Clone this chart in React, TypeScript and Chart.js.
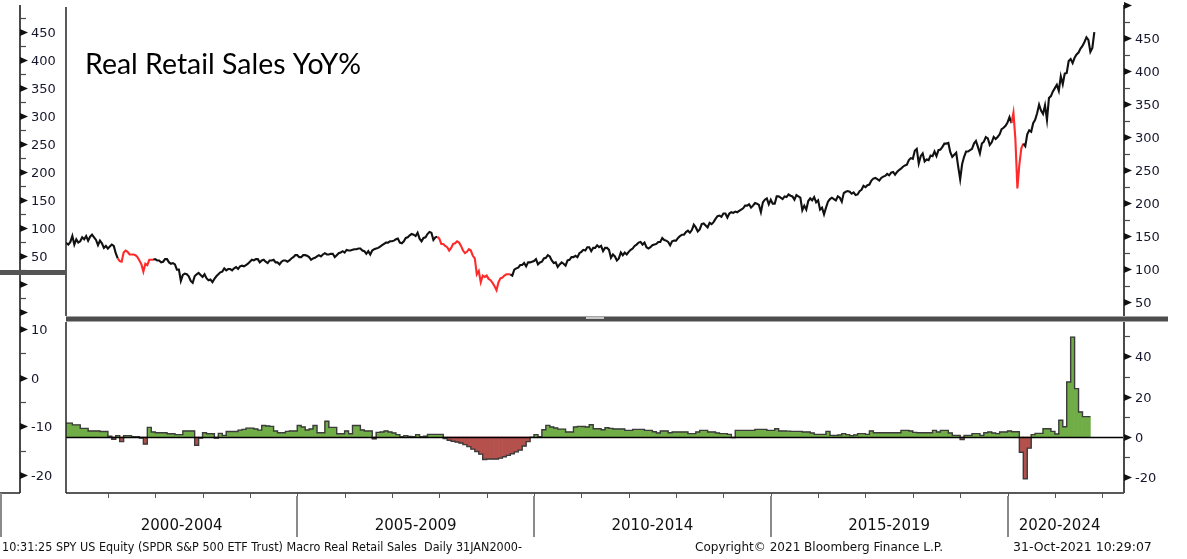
import React, { useEffect, useRef } from "react";
import { Chart, registerables } from "chart.js";

Chart.register(...registerables);

// ---------------- DATA ----------------
// SPY US Equity price, two readings per month (mid-month, month-end); series starts at month-end Jan 2000
const spy2000 = [140, 139, 137, 141, 150, 137, 145, 140, 142, 148, 145, 150, 143, 149, 152, 148, 144, 136, 143, 139, 132, 135, 131];
const spy2001 = [134, 137, 135, 124, 116, 112, 111, 125, 128, 126, 122, 122, 122, 121, 118, 113, 107, 96, 108, 106, 114, 114, 114, 115];
const spy2002 = [113, 113, 110, 111, 115, 115, 110, 108, 109, 107, 99, 99, 82, 91, 93, 92, 89, 82, 79, 89, 92, 94, 91, 88];
const spy2003 = [92, 86, 83, 84, 80, 85, 89, 92, 95, 96, 101, 98, 100, 100, 98, 101, 103, 100, 104, 105, 104, 106, 108, 111];
const spy2004 = [114, 113, 115, 115, 110, 113, 114, 111, 109, 113, 113, 114, 110, 110, 107, 111, 113, 113, 111, 113, 116, 118, 121, 121];
const spy2005 = [118, 118, 121, 121, 120, 118, 114, 116, 117, 119, 121, 119, 122, 124, 122, 122, 123, 123, 118, 121, 124, 125, 127, 125];
const spy2006 = [129, 128, 128, 129, 130, 130, 131, 131, 128, 127, 123, 127, 122, 128, 130, 131, 132, 134, 136, 138, 140, 140, 142, 142];
const spy2007 = [143, 145, 146, 140, 139, 142, 147, 148, 151, 153, 152, 150, 155, 146, 142, 147, 148, 153, 156, 155, 144, 148, 149, 146];
const spy2008 = [138, 138, 135, 133, 128, 132, 138, 139, 142, 140, 135, 128, 124, 126, 130, 128, 120, 116, 92, 97, 80, 90, 88, 90];
const spy2009 = [85, 83, 79, 74, 68, 80, 86, 87, 90, 92, 92, 92, 90, 99, 101, 102, 106, 106, 109, 104, 110, 110, 111, 112];
const spy2010 = [115, 107, 110, 111, 116, 117, 121, 119, 113, 109, 110, 103, 107, 110, 108, 105, 113, 114, 118, 118, 120, 118, 124, 126];
const spy2011 = [129, 128, 133, 133, 127, 132, 132, 136, 133, 135, 127, 132, 132, 129, 117, 122, 119, 113, 116, 125, 121, 125, 122, 126];
const spy2012 = [129, 131, 135, 137, 140, 141, 137, 140, 133, 131, 133, 136, 137, 138, 141, 141, 147, 144, 143, 141, 136, 142, 143, 143];
const spy2013 = [147, 150, 152, 152, 156, 158, 155, 159, 167, 163, 157, 160, 168, 169, 166, 163, 170, 168, 171, 176, 180, 181, 179, 184];
const spy2014 = [184, 178, 184, 186, 185, 187, 186, 188, 190, 192, 196, 196, 198, 193, 196, 200, 199, 197, 186, 201, 205, 207, 198, 205];
const spy2015 = [199, 199, 210, 210, 208, 206, 210, 209, 213, 211, 210, 205, 212, 210, 208, 189, 196, 190, 203, 207, 204, 209, 201, 204];
const spy2016 = [190, 193, 183, 193, 202, 206, 208, 206, 204, 210, 208, 202, 215, 217, 218, 217, 214, 216, 212, 213, 218, 220, 226, 224];
const spy2017 = [227, 228, 234, 237, 238, 236, 234, 238, 240, 241, 244, 242, 246, 247, 243, 247, 250, 252, 255, 257, 258, 265, 268, 267];
const spy2018 = [279, 282, 260, 271, 275, 263, 266, 265, 272, 271, 278, 271, 280, 281, 285, 290, 290, 291, 277, 270, 273, 276, 255, 236];
const spy2019 = [259, 270, 278, 278, 280, 282, 290, 294, 285, 275, 290, 293, 300, 298, 288, 292, 300, 297, 300, 304, 312, 314, 317, 322];
const spy2020 = [330, 321, 337, 296, 222, 258, 283, 290, 286, 304, 310, 308, 321, 326, 336, 349, 340, 335, 348, 326, 359, 362, 369, 374];
const spy2021 = [379, 370, 392, 380, 396, 397, 415, 418, 412, 420, 425, 428, 434, 438, 444, 451, 447, 429, 435, 459];

// Macro Real Retail Sales YoY %, monthly from Jan 2000 (each bar spans month-end to next month-end)
const rs2000 = [6.9, 6.9, 6.0, 6.0, 4.3, 4.3, 3.0, 3.0, 3.0, 2.7, 2.7, 0.4];
const rs2001 = [-1.1, 0.7, -2.3, 0.7, 0.7, 0.1, 0.1, -0.5, -3.5, 4.8, 2.5, 2.1];
const rs2002 = [2.1, 2.1, 1.6, 1.6, 1.2, 1.2, 3.0, 3.0, 3.0, -4.1, -0.5, 2.1];
const rs2003 = [1.6, 1.6, -0.5, 1.8, 0.8, 2.7, 2.7, 2.7, 3.4, 3.8, 4.4, 4.4];
const rs2004 = [4.0, 3.4, 5.7, 5.5, 5.3, 3.0, 2.1, 2.1, 2.8, 3.0, 3.0, 5.7];
const rs2005 = [5.0, 3.5, 4.0, 5.7, 2.1, 2.1, 7.8, 4.8, 4.8, 1.6, 1.6, 3.0];
const rs2006 = [1.6, 5.7, 5.7, 3.5, 3.0, 3.0, -0.9, 2.3, 2.5, 3.0, 2.5, 2.0];
const rs2007 = [1.2, 0.1, 0.7, 0.3, 0.1, 1.2, 0.1, 0.4, 1.3, 1.3, 1.3, 1.3];
const rs2008 = [-0.8, -1.6, -2.1, -2.5, -3.0, -3.8, -4.8, -6.0, -7.2, -8.5, -11.2, -10.9];
const rs2009 = [-10.9, -10.9, -10.5, -9.8, -9.1, -8.3, -7.4, -6.5, -4.5, -2.3, -0.2, 1.2];
const rs2010 = [0.1, 3.6, 5.8, 5.0, 4.5, 3.9, 3.9, 2.5, 2.5, 5.0, 5.3, 5.2];
const rs2011 = [5.0, 6.1, 4.1, 4.1, 3.6, 4.6, 4.3, 4.0, 4.0, 4.0, 3.3, 3.3];
const rs2012 = [3.8, 3.8, 3.8, 3.3, 3.3, 2.6, 2.0, 3.0, 3.0, 2.1, 2.5, 2.5];
const rs2013 = [2.5, 2.5, 1.7, 1.7, 2.5, 3.3, 3.3, 2.5, 2.5, 2.0, 1.7, 1.7];
const rs2014 = [1.3, -0.3, 3.3, 3.3, 3.3, 3.3, 3.3, 3.8, 3.8, 3.8, 3.3, 3.3];
const rs2015 = [4.1, 3.0, 3.0, 2.9, 2.8, 2.8, 2.8, 2.5, 2.5, 2.0, 1.3, 1.3];
const rs2016 = [1.3, 2.8, 0.8, 0.8, 1.0, 1.7, 1.2, 0.7, 1.0, 1.7, 1.7, 1.3];
const rs2017 = [3.0, 2.1, 2.1, 2.1, 2.1, 2.1, 2.1, 2.1, 3.3, 3.3, 3.0, 2.3];
const rs2018 = [2.1, 2.1, 2.1, 2.1, 3.3, 2.5, 3.3, 3.3, 2.0, 0.8, 0.8, -1.3];
const rs2019 = [0.8, 0.8, 1.7, 1.7, 0.8, 2.1, 2.5, 2.0, 1.7, 2.5, 2.5, 3.0];
const rs2020 = [2.6, 2.6, -7.6, -20.7, -5.5, 1.2, 1.8, 1.8, 4.1, 4.1, 2.8, 1.5];
const rs2021 = [8.3, 5.1, 27.3, 49.6, 24.0, 12.4, 10.1, 10.1];

// recession periods (price line drawn red), decimal years
const recessionStarts = [2001.167, 2007.917, 2020.083];
const recessionEnds = [2001.917, 2009.5, 2020.333];

// axis / label texts
const periodStarts = [2000, 2005, 2010, 2015, 2020];
const periodLabels = ["2000-2004", "2005-2009", "2010-2014", "2015-2019", "2020-2024"];
const titleText = "Real Retail Sales YoY%";
const footerLeft = "10:31:25 SPY US Equity (SPDR S&P 500 ETF Trust) Macro Real Retail Sales  Daily 31JAN2000-";
const footerMid = "Copyright\u00A9 2021 Bloomberg Finance L.P.";
const footerRight = "31-Oct-2021 10:29:07";

// ---------------- DERIVED ----------------
const spyValues = [
  ...spy2000, ...spy2001, ...spy2002, ...spy2003, ...spy2004, ...spy2005, ...spy2006, ...spy2007,
  ...spy2008, ...spy2009, ...spy2010, ...spy2011, ...spy2012, ...spy2013, ...spy2014, ...spy2015,
  ...spy2016, ...spy2017, ...spy2018, ...spy2019, ...spy2020, ...spy2021,
];
const spyPoints = spyValues.map((v, k) => ({ x: 2000 + (k + 2) / 24, y: v }));

const rsValues = [
  ...rs2000, ...rs2001, ...rs2002, ...rs2003, ...rs2004, ...rs2005, ...rs2006, ...rs2007,
  ...rs2008, ...rs2009, ...rs2010, ...rs2011, ...rs2012, ...rs2013, ...rs2014, ...rs2015,
  ...rs2016, ...rs2017, ...rs2018, ...rs2019, ...rs2020, ...rs2021,
];
const rsBars = rsValues.map((v, i) => ({ x: 2000 + (i + 1.5) / 12, y: v }));
const rsOutline = rsValues.map((v, i) => ({ x: 2000 + (i + 1) / 12, y: v }));
rsOutline.push({ x: 2000 + (rsValues.length + 1) / 12, y: rsValues[rsValues.length - 1] });

const inRecession = (t: number) =>
  recessionStarts.some((s, i) => t >= s - 1e-6 && t < recessionEnds[i] - 1e-6);

// ---------------- LAYOUT ----------------
const W = 1187;
const H = 559;
const TOP_H = 322;
const BOT_Y = 322;
const BOT_H = H - BOT_Y;
const X_MIN = 2000.116;
const X_MAX = 2022.46;
const X_LABEL_END = 2022.2;
const LEFT_AXIS_X = 20;
const INK = "#16162c";
const AXIS = "#4a4a4a";
const FONT = '"DejaVu Sans", Verdana, sans-serif';

function seg(ctx: CanvasRenderingContext2D, x1: number, y1: number, x2: number, y2: number) {
  ctx.beginPath();
  ctx.moveTo(x1, y1);
  ctx.lineTo(x2, y2);
  ctx.stroke();
}

function drawAxis(
  ctx: CanvasRenderingContext2D,
  xLine: number,
  top: number,
  bottom: number,
  scale: any,
  minorStep: number,
  majorStep: number,
  labelMin: number,
  labelMax: number
) {
  ctx.strokeStyle = AXIS;
  ctx.lineWidth = 2;
  seg(ctx, xLine, top, xLine, bottom);
  ctx.fillStyle = "#222";
  ctx.font = `13px ${FONT}`;
  ctx.textAlign = "left";
  ctx.textBaseline = "middle";
  const start = Math.ceil(scale.min / minorStep) * minorStep;
  for (let v = start; v <= scale.max + 1e-9; v += minorStep) {
    const y = Math.round(scale.getPixelForValue(v)) + 0.5;
    if (y < top - 1 || y > bottom + 1) continue;
    const r = v / majorStep;
    const major = Math.abs(r - Math.round(r)) < 1e-6;
    if (major) {
      ctx.fillStyle = "#111";
      ctx.beginPath();
      ctx.moveTo(xLine, y - 3.5);
      ctx.lineTo(xLine + 8, y);
      ctx.lineTo(xLine, y + 3.5);
      ctx.closePath();
      ctx.fill();
      if (v >= labelMin - 1e-9 && v <= labelMax + 1e-9) {
        ctx.fillStyle = INK;
        ctx.fillText(String(Math.round(v)), xLine + 11, y + 1);
      }
    } else {
      ctx.strokeStyle = AXIS;
      ctx.lineWidth = 1.2;
      seg(ctx, xLine, y, xLine + 6, y);
    }
  }
}

const topDecor = {
  id: "topDecor",
  afterDraw(chart: any) {
    const { ctx, chartArea: ca, scales } = chart;
    ctx.save();
    // plot left border
    ctx.strokeStyle = "#222";
    ctx.lineWidth = 1.5;
    seg(ctx, ca.left, ca.top + 2, ca.left, ca.bottom);
    // right axis
    drawAxis(ctx, ca.right, ca.top, ca.bottom, scales.y, 25, 50, 50, 450);
    // left offset axis
    drawAxis(ctx, LEFT_AXIS_X, ca.top, TOP_H, scales.yL, 25, 50, 50, 450);
    // left grey bar
    ctx.fillStyle = "#555";
    ctx.fillRect(0, 270, ca.left, 5);
    // panel separator bar
    ctx.fillStyle = "#4d4d4d";
    ctx.fillRect(ca.left, ca.bottom + 0.5, 1168 - ca.left, 5);
    ctx.fillStyle = "#c8c8c8";
    ctx.fillRect((ca.left + ca.right) / 2 - 9, ca.bottom + 1, 18, 2);
    // title
    ctx.fillStyle = "#000";
    ctx.font = '28.5px Lato, "Open Sans", sans-serif';
    ctx.textAlign = "left";
    ctx.textBaseline = "middle";
    ctx.fillText(titleText, 85, 65, 276);
    ctx.restore();
  },
};

const bottomDecor = {
  id: "bottomDecor",
  afterDraw(chart: any) {
    const { ctx, chartArea: ca, scales } = chart;
    const x = scales.x;
    ctx.save();
    // zero line
    const y0 = Math.round(scales.y.getPixelForValue(0)) + 0.5;
    ctx.strokeStyle = "#000";
    ctx.lineWidth = 1.5;
    seg(ctx, ca.left, y0, ca.right, y0);
    // plot borders
    ctx.strokeStyle = "#222";
    ctx.lineWidth = 1.5;
    seg(ctx, ca.left, ca.top, ca.left, ca.bottom);
    seg(ctx, ca.left, ca.bottom, ca.right, ca.bottom);
    // right axis
    drawAxis(ctx, ca.right, ca.top, ca.bottom, scales.y, 10, 20, -20, 40);
    // left offset axis
    drawAxis(ctx, LEFT_AXIS_X, 0, ca.bottom, scales.yL, 5, 10, -20, 10);
    ctx.strokeStyle = "#222";
    ctx.lineWidth = 1.5;
    seg(ctx, 0, ca.bottom, LEFT_AXIS_X, ca.bottom);
    // yearly ticks
    ctx.strokeStyle = "#555";
    ctx.lineWidth = 1;
    for (let yr = Math.ceil(X_MIN); yr <= X_MAX; yr++) {
      const px = Math.round(x.getPixelForValue(yr)) + 0.5;
      seg(ctx, px, ca.bottom, px, ca.bottom + 5);
    }
    // 5-year separators
    ctx.strokeStyle = "#8a8a8a";
    ctx.lineWidth = 2;
    seg(ctx, 1, ca.bottom, 1, ca.bottom + 44);
    periodStarts.forEach((s) => {
      if (s <= X_MIN) return;
      const px = Math.round(x.getPixelForValue(s));
      seg(ctx, px, ca.bottom + 3, px, ca.bottom + 44);
    });
    // period labels
    ctx.fillStyle = "#111";
    ctx.font = `15px ${FONT}`;
    ctx.textAlign = "center";
    ctx.textBaseline = "middle";
    periodStarts.forEach((s, i) => {
      const a = x.getPixelForValue(Math.max(s, X_MIN));
      const b = x.getPixelForValue(Math.min(s + 5, X_LABEL_END));
      ctx.fillText(periodLabels[i], (a + b) / 2, ca.bottom + 33);
    });
    // footer
    ctx.font = `12.5px ${FONT}`;
    ctx.textAlign = "left";
    ctx.fillText(footerLeft, 2, ca.bottom + 55, 520);
    ctx.fillText(footerMid, 695, ca.bottom + 55, 248);
    ctx.fillText(footerRight, 1013, ca.bottom + 55, 154);
    ctx.restore();
  },
};

export default function App() {
  const topRef = useRef<HTMLCanvasElement>(null);
  const botRef = useRef<HTMLCanvasElement>(null);

  useEffect(() => {
    const topChart = new Chart(topRef.current as HTMLCanvasElement, {
      type: "line",
      data: {
        datasets: [
          {
            data: spyPoints as any,
            borderColor: "#111",
            borderWidth: 2.1,
            pointRadius: 0,
            tension: 0,
            segment: {
              borderColor: (c: any) => (inRecession(c.p0.parsed.x) ? "#ff2a2a" : "#111"),
            },
          } as any,
        ],
      },
      options: {
        animation: false,
        responsive: false,
        devicePixelRatio: 1,
        events: [],
        layout: { padding: { left: 66, right: W - 1124, top: 5, bottom: TOP_H - 316 } },
        plugins: { legend: { display: false }, tooltip: { enabled: false } },
        scales: {
          x: { type: "linear", display: false, min: X_MIN, max: X_MAX },
          y: { type: "linear", display: false, min: 28.8, max: 500 },
          yL: { type: "linear", display: false, position: "left", min: -57, max: 498 },
        },
      } as any,
      plugins: [topDecor],
    });

    const botChart = new Chart(botRef.current as HTMLCanvasElement, {
      type: "bar",
      data: {
        datasets: [
          {
            type: "bar",
            data: rsBars as any,
            backgroundColor: rsValues.map((v) => (v >= 0 ? "#70ad47" : "#b5514d")),
            borderWidth: 0,
            barPercentage: 1,
            categoryPercentage: 1,
            grouped: false,
            order: 2,
          } as any,
          {
            type: "line",
            data: rsOutline as any,
            stepped: true,
            borderColor: "#3c3c3c",
            borderWidth: 1.4,
            pointRadius: 0,
            fill: false,
            order: 1,
          } as any,
        ],
      },
      options: {
        animation: false,
        responsive: false,
        devicePixelRatio: 1,
        events: [],
        layout: { padding: { left: 66, right: W - 1124, top: 0, bottom: BOT_H - (493 - BOT_Y) } },
        plugins: { legend: { display: false }, tooltip: { enabled: false } },
        scales: {
          x: { type: "linear", display: false, offset: false, min: X_MIN, max: X_MAX },
          y: { type: "linear", display: false, min: -27.8, max: 57.1, beginAtZero: false },
          yL: { type: "linear", display: false, position: "left", min: -23.7, max: 11.4 },
        },
      } as any,
      plugins: [bottomDecor],
    });

    return () => {
      topChart.destroy();
      botChart.destroy();
    };
  }, []);

  return (
    <div
      style={{
        position: "absolute",
        left: 0,
        top: 0,
        width: W,
        height: H,
        background: "#fff",
        overflow: "hidden",
      }}
    >
      <canvas
        ref={topRef}
        width={W}
        height={TOP_H}
        style={{ position: "absolute", left: 0, top: 0, width: W, height: TOP_H }}
      />
      <canvas
        ref={botRef}
        width={W}
        height={BOT_H}
        style={{ position: "absolute", left: 0, top: BOT_Y, width: W, height: BOT_H }}
      />
    </div>
  );
}
